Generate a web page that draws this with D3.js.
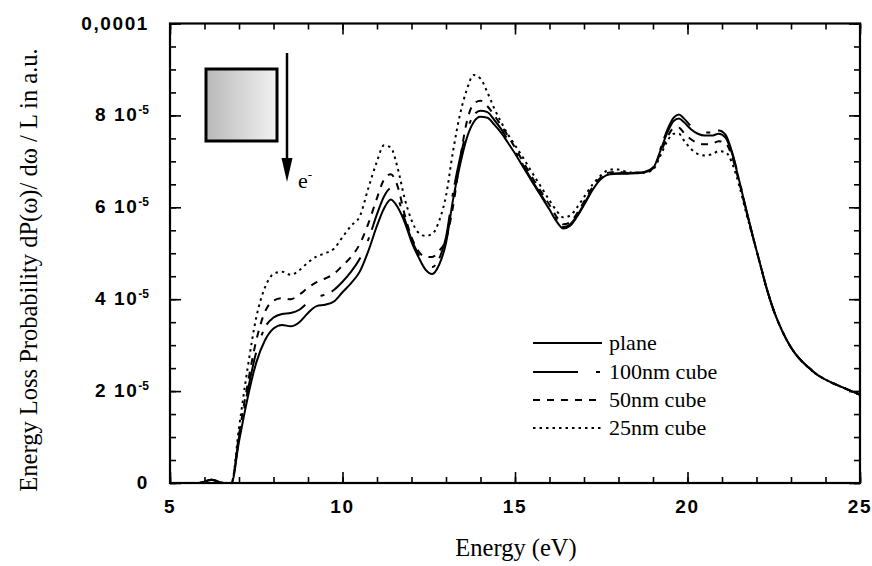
<!DOCTYPE html>
<html lang="en">
<head>
<meta charset="UTF-8">
<title>energy_loss</title>
<script src="https://d3js.org/d3.v7.min.js"></script>
<style>
    body { margin: 0; background: #fff; }
    .tick-label {
        font-family: "Liberation Sans", Arial, sans-serif;
        font-weight: bold;
        font-size: 19px;
        letter-spacing: 1.6px;
    }
    .title, .legend-text, .electron {
        font-family: "Liberation Serif", "DejaVu Serif", "Times New Roman", Times, serif;
        font-size: 22px;
    }
    .title { font-size: 24.5px; }
    .curve { fill: none; stroke: #000; stroke-width: 2; }
    .tick line { stroke: #000; stroke-width: 1.6; }
</style>
</head>
<body>
<div id="chart"></div>
<script>
    // energy grid (eV)
    const energy = [
        5, 5.8, 6.0, 6.2, 6.4, 6.6, 6.78, 7.0, 7.25, 7.5,
        7.75, 8.0, 8.25, 8.5, 8.75, 9.0, 9.25, 9.5, 9.75, 10.0,
        10.25, 10.5, 10.75, 11.0, 11.2, 11.4, 11.6, 11.8, 12.0, 12.2,
        12.4, 12.6, 12.8, 13.0, 13.2, 13.4, 13.6, 13.8, 14.0, 14.2,
        14.4, 14.6, 14.8, 15.0, 15.25, 15.5, 15.75, 16.0, 16.2, 16.4,
        16.6, 16.8, 17.0, 17.25, 17.5, 17.75, 18.0, 18.25, 18.5, 18.75,
        19.0, 19.2, 19.4, 19.6, 19.75, 19.9, 20.1, 20.3, 20.5, 20.7,
        20.9, 21.1, 21.3, 21.5, 21.7, 21.9, 22.1, 22.3, 22.5, 22.75,
        23.0, 23.25, 23.5, 23.75, 24.0, 24.25, 24.5, 24.75, 25.0
    ];

    // energy loss probability, units of 1e-5
    const plane = [
        0, 0, 0.03, 0.07, 0.03, 0, 0, 0.9, 1.85, 2.62,
        3.1, 3.36, 3.44, 3.41, 3.5, 3.7, 3.85, 3.88, 3.95, 4.15,
        4.35, 4.6, 5.05, 5.6, 5.97, 6.17, 6.0, 5.68, 5.25, 4.92,
        4.65, 4.55, 4.75, 5.22, 6.15, 6.9, 7.5, 7.85, 7.97, 7.95,
        7.8, 7.62, 7.4, 7.17, 6.86, 6.55, 6.25, 5.95, 5.7, 5.54,
        5.6, 5.8, 6.05, 6.38, 6.62, 6.72, 6.73, 6.73, 6.74, 6.76,
        6.85, 7.2, 7.6, 7.88, 7.93, 7.85, 7.7, 7.6, 7.56, 7.56,
        7.6, 7.52, 7.15, 6.58, 5.95, 5.35, 4.78, 4.22, 3.75, 3.3,
        2.95, 2.7, 2.52, 2.36, 2.25, 2.16, 2.08, 2.0, 1.92
    ];
    const cube100 = [
        0, 0, 0.03, 0.07, 0.03, 0, 0, 1.0, 2.0, 2.85,
        3.38, 3.6, 3.68, 3.7, 3.77, 3.93, 4.05, 4.1, 4.2, 4.38,
        4.6, 4.88, 5.3, 5.85, 6.23, 6.41, 6.2, 5.75, 5.3, 4.98,
        4.75, 4.7, 4.88, 5.35, 6.3, 7.05, 7.65, 8.0, 8.1, 8.07,
        7.9, 7.7, 7.46, 7.22, 6.9, 6.58, 6.28, 5.98, 5.73, 5.57,
        5.63, 5.82, 6.07, 6.4, 6.64, 6.73, 6.74, 6.74, 6.75, 6.77,
        6.87, 7.24, 7.66, 7.95, 8.02, 7.93, 7.77, 7.67, 7.63, 7.63,
        7.67, 7.58, 7.18, 6.6, 5.95, 5.35, 4.78, 4.22, 3.75, 3.3,
        2.95, 2.7, 2.52, 2.36, 2.25, 2.16, 2.08, 2.0, 1.92
    ];
    const cube50 = [
        0, 0, 0.03, 0.07, 0.03, 0, 0, 1.05, 2.15, 3.1,
        3.72, 3.97, 4.02, 4.0, 4.1, 4.25, 4.37, 4.45, 4.55, 4.73,
        4.92, 5.2, 5.65, 6.2, 6.6, 6.72, 6.45, 5.85, 5.35, 5.05,
        4.92, 4.92, 5.05, 5.3, 6.0, 7.0, 7.85, 8.25, 8.32, 8.2,
        8.0, 7.78, 7.55, 7.3, 6.97, 6.65, 6.35, 6.05, 5.8, 5.63,
        5.68, 5.87, 6.12, 6.44, 6.66, 6.76, 6.77, 6.75, 6.75, 6.76,
        6.85, 7.15, 7.5, 7.72, 7.73, 7.62, 7.48, 7.4, 7.37, 7.38,
        7.44, 7.4, 7.08, 6.54, 5.92, 5.35, 4.78, 4.22, 3.75, 3.3,
        2.95, 2.7, 2.52, 2.36, 2.25, 2.16, 2.08, 2.0, 1.92
    ];
    const cube25 = [
        0, 0, 0.03, 0.07, 0.03, 0, 0, 1.2, 2.5, 3.6,
        4.25, 4.55, 4.6, 4.53, 4.63, 4.8, 4.93, 5.0, 5.1, 5.35,
        5.6, 5.8, 6.42, 7.0, 7.35, 7.3, 6.85, 6.2, 5.72, 5.45,
        5.38, 5.42, 5.7, 6.25, 7.2, 8.0, 8.55, 8.88, 8.8, 8.5,
        8.15, 7.85, 7.58, 7.35, 7.06, 6.75, 6.45, 6.15, 5.93, 5.78,
        5.82, 6.0, 6.22, 6.5, 6.7, 6.82, 6.82, 6.77, 6.75, 6.75,
        6.82, 7.1, 7.42, 7.6, 7.6, 7.45, 7.27, 7.16, 7.13, 7.15,
        7.22, 7.2, 6.95, 6.47, 5.88, 5.33, 4.78, 4.22, 3.75, 3.3,
        2.95, 2.7, 2.52, 2.36, 2.25, 2.16, 2.08, 2.0, 1.92
    ];

    const seriesNames = ["plane", "100nm cube", "50nm cube", "25nm cube"];
    const seriesData = [plane, cube100, cube50, cube25];
    const dashes = ["none", "45,18,4,8", "7,7", "2.5,4"];

    const xMajor = [5, 10, 15, 20, 25];
    const xMinor = d3.range(5, 25.5, 1);
    const yMajor = [0, 2, 4, 6, 8, 10];
    const yMinor = d3.range(0, 10.25, 0.5);
    const yLabels = [["0", ""], ["2 10", "-5"], ["4 10", "-5"], ["6 10", "-5"], ["8 10", "-5"], ["0,0001", ""]];

    const W = 872, H = 566;
    const plotLeft = 170, plotRight = 860, plotTop = 23.5, plotBottom = 483;

    const svg = d3.select("#chart").append("svg")
        .attr("width", W).attr("height", H);

    const x = d3.scaleLinear().domain([5, 25]).range([plotLeft, plotRight]);
    const y = d3.scaleLinear().domain([0, 10]).range([plotBottom, plotTop]);

    // ticks on all four sides, pointing inward
    function ticks(axis, vals, size, tx, ty) {
        const g = svg.append("g")
            .attr("transform", `translate(${tx},${ty})`)
            .call(axis.tickValues(vals).tickSizeInner(size).tickSizeOuter(0).tickFormat(""));
        g.select(".domain").remove();
    }
    ticks(d3.axisBottom(x), xMinor, -6, 0, plotBottom);
    ticks(d3.axisBottom(x), xMajor, -11, 0, plotBottom);
    ticks(d3.axisTop(x), xMinor, -6, 0, plotTop);
    ticks(d3.axisTop(x), xMajor, -11, 0, plotTop);
    ticks(d3.axisLeft(y), yMinor, -6, plotLeft, 0);
    ticks(d3.axisLeft(y), yMajor, -11, plotLeft, 0);
    ticks(d3.axisRight(y), yMinor, -6, plotRight, 0);
    ticks(d3.axisRight(y), yMajor, -11, plotRight, 0);

    // curves
    svg.append("clipPath").attr("id", "plot-clip")
        .append("rect").attr("x", plotLeft).attr("y", plotTop)
        .attr("width", plotRight - plotLeft).attr("height", plotBottom - plotTop);

    const line = d3.line()
        .x((d, i) => x(energy[i]))
        .y(d => y(d))
        .curve(d3.curveMonotoneX);

    svg.append("g").attr("clip-path", "url(#plot-clip)")
        .selectAll("path")
        .data(seriesData)
        .enter()
        .append("path")
        .attr("class", "curve")
        .attr("d", line)
        .attr("stroke-dasharray", (d, i) => dashes[i]);

    // frame
    svg.append("rect")
        .attr("x", plotLeft).attr("y", plotTop)
        .attr("width", plotRight - plotLeft).attr("height", plotBottom - plotTop)
        .attr("fill", "none").attr("stroke", "#000").attr("stroke-width", 2.2);

    // x tick labels
    svg.selectAll(".xlab")
        .data(xMajor)
        .enter()
        .append("text")
        .attr("class", "tick-label")
        .attr("x", d => x(d))
        .attr("y", 513)
        .attr("text-anchor", "middle")
        .text(d => d);

    // y tick labels
    const ylab = svg.selectAll(".ylab")
        .data(yMajor)
        .enter()
        .append("text")
        .attr("class", "tick-label")
        .attr("x", 149)
        .attr("y", d => y(d) + 6)
        .attr("text-anchor", "end");
    ylab.append("tspan").text((d, i) => yLabels[i][0]);
    ylab.append("tspan")
        .attr("dy", -7)
        .attr("font-size", "12px")
        .attr("letter-spacing", "0px")
        .text((d, i) => yLabels[i][1]);

    // axis titles
    svg.append("text")
        .attr("class", "title")
        .attr("x", 516)
        .attr("y", 556)
        .attr("text-anchor", "middle")
        .text("Energy (eV)");

    svg.append("text")
        .attr("class", "title")
        .attr("transform", `translate(37, 270) rotate(-90)`)
        .attr("text-anchor", "middle")
        .text("Energy Loss Probability dP(ω)/ dω / L in a.u.");

    // legend
    const legendY = [343, 372, 400, 428];
    const legend = svg.append("g");
    seriesNames.forEach((name, i) => {
        legend.append("line")
            .attr("x1", 533).attr("x2", 602)
            .attr("y1", legendY[i]).attr("y2", legendY[i])
            .attr("stroke", "#000").attr("stroke-width", 2)
            .attr("stroke-dasharray", dashes[i]);
        legend.append("text")
            .attr("class", "legend-text")
            .attr("x", 609)
            .attr("y", legendY[i] + 7)
            .text(name);
    });

    // inset: cube and electron trajectory
    const grad = svg.append("defs").append("linearGradient")
        .attr("id", "cube-fill").attr("x1", "0%").attr("x2", "100%");
    grad.append("stop").attr("offset", "0%").attr("stop-color", "#b8b8b8");
    grad.append("stop").attr("offset", "100%").attr("stop-color", "#f2f2f2");

    svg.append("rect")
        .attr("x", 206).attr("y", 69)
        .attr("width", 71).attr("height", 72)
        .attr("fill", "url(#cube-fill)")
        .attr("stroke", "#000").attr("stroke-width", 3);

    svg.append("line")
        .attr("x1", 287).attr("x2", 287)
        .attr("y1", 53).attr("y2", 162)
        .attr("stroke", "#000").attr("stroke-width", 2.5);
    svg.append("path")
        .attr("d", "M281.5,158 L292.5,158 L287,182 Z")
        .attr("fill", "#000");

    const e = svg.append("text")
        .attr("class", "electron")
        .attr("x", 298).attr("y", 188);
    e.append("tspan").text("e");
    e.append("tspan").attr("dy", -9).attr("font-size", "13px").text("-");
</script>
</body>
</html>
